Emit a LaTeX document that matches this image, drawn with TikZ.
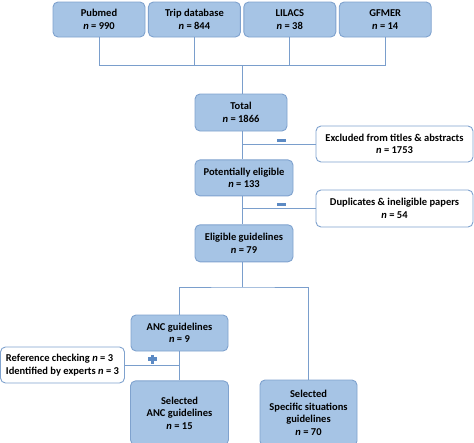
\documentclass[tikz,border=0pt]{standalone}
\usepackage{fontspec}
\setmainfont{Carlito}
\usetikzlibrary{positioning, calc}

\definecolor{boxfill}{RGB}{166,196,229}
\definecolor{boxline}{RGB}{127,162,206}
\definecolor{linkcol}{RGB}{122,158,204}
\definecolor{signcol}{RGB}{92,138,196}

\begin{document}
\begin{tikzpicture}[
			x=1pt, y=-1pt,
			node distance=2.5pt,
			font=\fontsize{10.5}{12.5}\selectfont\bfseries,
			block/.style={draw=boxline, fill=boxfill, line width=0.9pt, rounded corners=5pt, minimum width=92pt, minimum height=35pt, align=center, inner sep=1pt},
			note/.style={draw=boxline, fill=white, line width=0.9pt, rounded corners=5pt, minimum height=36pt, align=center, inner sep=1pt},
			link/.style={draw=linkcol, line width=1pt},
			minusbar/.style={fill=signcol, rectangle, inner sep=0pt, minimum width=9pt, minimum height=3pt},
			plusbar/.style={fill=signcol, rectangle, inner sep=0pt, minimum width=9pt, minimum height=3.2pt}
			]
			\useasboundingbox (0,0) rectangle (474,442);
			% --- Bazy danych ---
			\node[block] (pubmed) at (99,19.5) {Pubmed\\ \textit{n} = 990};
			\node[block, right=of pubmed] (trip) {Trip database\\ \textit{n} = 844};
			\node[block, right=of trip] (lilacs) {LILACS\\ \textit{n} = 38};
			\node[block, right=of lilacs] (gfmer) {GFMER\\ \textit{n} = 14};
			
			% --- Kolejne etapy ---
			\node[block, minimum height=37pt] (total) at (241,112.5) {Total\\ \textit{n} = 1866};
			\node[block, minimum width=98pt, minimum height=36pt, below=28pt of total, xshift=3pt] (potential) {Potentially eligible\\ \textit{n} = 133};
			\node[block, minimum width=98pt, minimum height=37pt, below=28pt of potential] (eligible) {Eligible guidelines\\ \textit{n} = 79};
			\node[block, minimum width=97pt, minimum height=36pt] (anc) at (179.5,333) {ANC guidelines\\ \textit{n} = 9};
			\node[block, minimum width=98pt, minimum height=64pt, below=29pt of anc] (selanc) {Selected\\ ANC guidelines\\ \textit{n} = 15};
			\node[block, minimum width=97pt, minimum height=66pt] (specific) at (308.5,413) {Selected\\ Specific situations\\ guidelines\\ \textit{n} = 70};
			
			% --- Wykluczone / dodane ---
			\node[note, minimum width=157pt] (excluded) at (394.5,144) {Excluded from titles \& abstracts\\ \textit{n} = 1753};
			\node[note, minimum width=157pt, minimum height=37pt] (duplicates) at (394.5,208.5) {Duplicates \& ineligible papers\\ \textit{n} = 54};
			\node[note, minimum width=124pt, align=left, inner xsep=5pt] (reference) at (62.5,365) {Reference checking \textit{n} = 3\\ Identified by experts \textit{n} = 3};
			
			% --- Połączenia ---
			\coordinate (bus) at (242,65);
			\coordinate (split) at (242,287);
			\draw[link] (pubmed.south) |- (bus);
			\draw[link] (trip.south) |- (bus);
			\draw[link] (lilacs.south) |- (bus);
			\draw[link] (gfmer.south) |- (bus);
			\draw[link] (bus) -- (bus |- total.north);
			\draw[link] (total.south -| bus) -- (potential.north -| bus);
			\draw[link] (potential.south -| bus) -- (eligible.north -| bus);
			\draw[link] (eligible.south -| split) -- (split);
			\draw[link] (anc.north) |- (split) -| (specific.north);
			\draw[link] (anc.south) -- (selanc.north);
			% gałęzie boczne
			\draw[link] (bus |- excluded.west) -- (excluded.west);
			\draw[link] (bus |- duplicates.west) -- (duplicates.west);
			\draw[link] (reference.east) -- (reference.east -| anc.south);
			
			% --- Znaki minus / plus ---
			\node[minusbar] (minus1) at (281.5,140.5) {};
			\node[minusbar] (minus2) at (281.5,204.5) {};
			\node[plusbar] (plush) at (152.5,359) {};
			\node[plusbar, rotate=90] (plusv) at (152.5,359) {};
		\end{tikzpicture}
\end{document}
